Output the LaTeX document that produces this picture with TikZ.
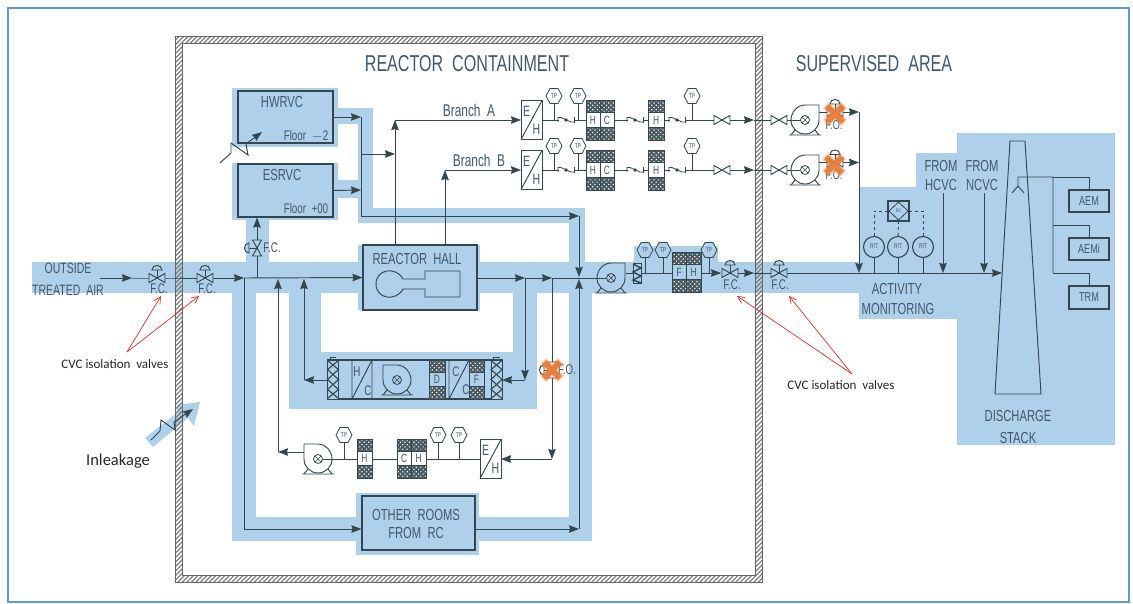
\documentclass[tikz,border=0pt]{standalone}
\usepackage{fontspec}
\setmainfont{Liberation Sans}
\newfontfamily\iso[FakeStretch=0.7]{Liberation Sans}
\newfontfamily\calfont{Carlito}
\usetikzlibrary{arrows.meta,patterns,patterns.meta,shapes.geometric}
\definecolor{duct}{HTML}{AED0EA}
\definecolor{ink}{HTML}{34474F}
\definecolor{txtc}{HTML}{43586A}
\definecolor{redc}{HTML}{D9302B}
\definecolor{frameblue}{HTML}{5B9BD5}
\definecolor{orangex}{HTML}{E67E3A}
\tikzset{
  pipe/.style={draw=ink,line width=.95pt},
  arr/.style={pipe,-{Stealth[length=10pt,width=7.5pt,inset=1pt]}},
  lab/.style={text=txtc,inner sep=0pt,font=\iso\fontsize{#1}{#1}\selectfont},
  note/.style={text=black!85,inner sep=0pt,font=\calfont\fontsize{#1}{#1}\selectfont},
  boxn/.style={draw=ink,line width=1.1pt,inner sep=0pt,minimum width=#1},
  redarr/.style={draw=redc,line width=.7pt,-{Straight Barb[length=7pt,width=7pt]}},
  ductfill/.style={fill=duct},
  meshfill/.style={draw=ink,line width=.8pt,preaction={fill=ink!90},pattern={Dots[distance=3.2pt,radius=.85pt,angle=45]},pattern color=white},
  pics/bow/.style={code={\draw[pipe,fill=#1] (-8,-4.5)--(8,4.5)--(8,-4.5)--(-8,4.5)--cycle;}},
  pics/ctl/.style={code={
    \draw[pipe] (0,0)--(0,-8);
    \draw[pipe,fill=#1] (-8,-4.5)--(8,4.5)--(8,-4.5)--(-8,4.5)--cycle;
    \draw[pipe,fill=#1] (-5,-8)--(5,-8) .. controls (5,-14) and (-5,-14) .. (-5,-8)--cycle;}},
  pics/tp/.style={code={
    \draw[pipe,line width=.8pt,fill=#1] (-8,0)--(-4,-7.5)--(4,-7.5)--(8,0)--(4,7.5)--(-4,7.5)--cycle;
    \node[lab=7] (t) at (0,0) {TP};}},
  pics/damper/.style={code={
    \fill[white] (-7.5,-1.5) rectangle (7.5,1.5);
    \draw[pipe,line width=.8pt] (-8,2)--(-8,-2.5)--(-5,-2.5)--(5,2)--(8,2);
    \draw[pipe,line width=.8pt] (8,-3)--(8,2.5);
    \fill[ink] (0,0) circle[radius=1.9];}},
  pics/pump/.style={code={
    \draw[pipe] (14,-15)--(14,-3)--(14,0) .. controls (14,7.7) and (7.7,14) .. (0,14)
       .. controls (-7.7,14) and (-14,7.7) .. (-14,0)
       .. controls (-14,-7.7) and (-7.7,-15) .. (0,-15)--(14,-15);
    \draw[pipe] (-16,15)--(16,15) (-10,10)--(-14,15) (10,10)--(14,15);
    \draw[pipe,line width=.8pt] (0,0) circle[radius=4.5];
    \draw[pipe,line width=.6pt] (-3,-3)--(3,3) (-3,3)--(3,-3);}},
  pics/ehbox/.style={code={
    \draw[pipe,fill=white] (-10.5,-19.5) rectangle (10.5,19.5);
    \draw[pipe] (-10.5,19.5)--(10.5,-19.5);
    \node[lab=15] (e) at (-5,-9) {E};
    \node[lab=15] (h) at (5,9) {H};}},
  pics/zig/.style={code={
    \draw[pipe,fill=duct] (-4,-10) rectangle (4,10);
    \draw[pipe,line width=1.5pt] (-4,-9)--(4,-5)--(-4,-1)--(4,3)--(-4,7)--(4,10);}},
  pics/zigbig/.style={code={
    \draw[pipe,fill=duct] (-5.5,-19.5) rectangle (5.5,19.5);
    \draw[pipe,line width=1.1pt] (-5.5,-19)--(5.5,-10)--(-5.5,0)--(5.5,10)--(-5.5,19);
    \draw[pipe,line width=1.1pt] (5.5,-19)--(-5.5,-10)--(5.5,0)--(-5.5,10)--(5.5,19);
    \draw[pipe,line width=.8pt] (-3,-19.5)--(-3,-22)--(3,-22);}}
}
\newcommand{\meshcell}[7]{% name,x1,x2,y1,y2,letter,bg
  \fill[#7] (#2,#4) rectangle (#3,#5);
  \path[meshfill] (#2,#4) rectangle (#3,#4+12.5);
  \path[meshfill] (#2,#5-12.5) rectangle (#3,#5);
  \draw[pipe,line width=.8pt] (#2,#4) rectangle (#3,#5);
  \node[lab=12] (#1) at ({(#2+#3)/2},{(#4+#5)/2}) {#6};
}
\newcommand{\oxcross}[3]{% name,x,y
  \coordinate (#1) at (#2,#3);
  \draw[orangex,opacity=.35,line width=9pt] (#2-9,#3-9)--(#2+9,#3+9) (#2-9,#3+9)--(#2+9,#3-9);
  \draw[orangex,opacity=.95,line width=6pt] (#2-8,#3-8)--(#2+8,#3+8) (#2-8,#3+8)--(#2+8,#3-8);
}
\begin{document}
\begin{tikzpicture}[x=1pt,y=-1pt]
\useasboundingbox (0,0) rectangle (1133,603);
% frame
\draw[frameblue,line width=2pt] (7.5,7.5) rectangle (1128.5,602);
% duct shading
\fill[ductfill] (32,262) rectangle (859,293);
\fill[ductfill] (232,88) rectangle (338,147);
\fill[ductfill] (232,163) rectangle (338,220);
\fill[ductfill] (246,220) rectangle (269,262);
\fill[ductfill] (338,108) rectangle (373,124);
\fill[ductfill] (338,180) rectangle (358,198);
\fill[ductfill] (358,108) rectangle (373,223);
\fill[ductfill] (358,208) rectangle (585,223);
\fill[ductfill] (569,208) rectangle (585,262);
\fill[ductfill] (358,245) rectangle (480,310);
\fill[ductfill] (232,293) rectangle (256,541);
\fill[ductfill] (232,517) rectangle (592,541);
\fill[ductfill] (356,493) rectangle (479,555);
\fill[ductfill] (569,293) rectangle (592,541);
\fill[ductfill] (289,293) rectangle (321,409);
\fill[ductfill] (289,352) rectangle (537,409);
\fill[ductfill] (513,293) rectangle (537,352);
\fill[ductfill] (634,246) rectangle (718,262);
\fill[ductfill] (859,187) rectangle (957,319);
\fill[ductfill] (916,153) rectangle (957,187);
\fill[ductfill] (957,133) rectangle (1115,445);
\fill[ductfill] (145,438)--(177,413)--(177,405)--(200,402)--(194,426)--(188,418)--(153,447)--cycle;
% containment wall
\begin{scope}[even odd rule]
  \clip (175,36) rectangle (762,582) (182,43) rectangle (755,575);
  \foreach \i in {0,4.5,...,1000} {\draw[black!50,line width=1.2pt] (170+\i,590)--(170+\i+600,-10);}
  \foreach \i in {4.5,9,...,600} {\draw[black!50,line width=1.2pt] (170-\i,590)--(170-\i+600,-10);}
\end{scope}
\draw[black!60,line width=.6pt] (175,36) rectangle (762,582) (182,43) rectangle (755,575);
% titles
\node[lab=23] (tCont) at (467,64) {REACTOR~~CONTAINMENT};
\node[lab=23] (tSup) at (874,64) {SUPERVISED~~AREA};
\node[lab=15] (tOut) at (68,268) {OUTSIDE};
\node[lab=15] (tTre) at (68,290) {TREATED~~AIR};
% boxes
\node[boxn=95pt,minimum height=52pt] (hwrvc) at (285.5,117) {};
\node[boxn=95pt,minimum height=53pt] (esrvc) at (285.5,190.5) {};
\node[boxn=114pt,minimum height=65pt] (hall) at (420,277.5) {};
\node[boxn=113pt,minimum height=54pt] (others) at (418.5,523) {};
\node[lab=16] (lHw) at (282,102) {HWRVC};
\node[lab=16] (lEs) at (282,175) {ESRVC};
\node[lab=14] (lF2) at (306,136) {Floor~~$-$2};
\node[lab=14] (lF0) at (306,208) {Floor~~+00};
\node[lab=16] (lHall) at (417,259) {REACTOR~~HALL};
\node[lab=16] (lOth1) at (416,515) {OTHER~~ROOMS};
\node[lab=16] (lOth2) at (416,533) {FROM~~RC};
\node[lab=17] (lBrA) at (469,110) {Branch~~A};
\node[lab=17] (lBrB) at (479,160) {Branch~~B};
% reactor hall symbol
\draw[pipe] (403,279)--(425,279)--(425,271)--(460,271)--(460,297)--(425,297)--(425,289)--(403,289)
  .. controls (396,302) and (376,299) .. (376,284) .. controls (376,269) and (396,266) .. (403,279);
% key points
\coordinate (in) at (100,278);
\coordinate (v1) at (157,278);
\coordinate (v2) at (205,278);
\coordinate (jL) at (244,278);
\coordinate (jE) at (257,278);
\coordinate (cL) at (244,529);
\coordinate (cR) at (579,529);
\coordinate (j5) at (525,278);
\coordinate (j6) at (552,278);
\coordinate (j7) at (579,278);
\coordinate (dn5) at (525,380);
\coordinate (dn6) at (552,459);
\coordinate (top7) at (579,216);
\coordinate (top1) at (361,216);
\coordinate (hw1) at (361,117);
\coordinate (es1) at (361,190);
\coordinate (br1) at (361,154);
\coordinate (brm) at (395,154);
\coordinate (brA) at (395,120);
\coordinate (brB) at (445,170);
\coordinate (pm) at (611,278);
\coordinate (ahuL) at (328,380);
\coordinate (ahuR) at (502,380);
\coordinate (up4) at (304,380);
\coordinate (up3) at (278,452);
\coordinate (vE) at (257,248);
\coordinate (vO) at (552,370);
% main line, left part
\draw[arr] (in)--(132,278);
\draw[pipe] (132,278)--(v1)--(v2);
\draw[arr] (v2)--(jL);
\draw[arr] (jL)--(hall.west);
\draw[pipe] (jL)--(cL);
\draw[arr] (cL)--(others.west |- cL);
\draw[arr] (others.east |- cR)--(cR);
\draw[arr] (cR)--(579,279);
\draw[arr] (jE)--(esrvc.south -| jE);
\draw[arr] (up3)--(278,279);
\draw[arr] (up4)--(304,279);
\draw[arr] (ahuL)--(up4);
% hvac boxes outlet lines
\draw[arr] (hwrvc.east)--(hw1);
\draw[arr] (esrvc.east)--(es1);
\draw[pipe] (hw1)--(top1);
\draw[arr] (top1)--(top7);
\draw[arr] (top7)--(579,277);
\draw[arr] (br1)--(brm);
\draw[arr] (hall.north -| brA)--(brA);
\draw[arr] (hall.north -| brB)--(brB);
% hall outlet
\draw[arr] (hall.east |- j5)--(j5);
\draw[arr] (j5)--(j6);
\draw[pipe] (j6)--(606,278);
\draw[arr] (j5)--(dn5);
\draw[arr] (dn5)--(ahuR);
\draw[arr] (j6)--(dn6);
\draw[arr] (dn6)--(501,459);
% branch rows
\foreach \n/\y/\vy in {a/120/112,b/170/162.5}{
  \coordinate (eh\n) at (531.5,\y);
  \coordinate (w\n) at (754,\y);
  \draw[pipe] (542,\y)--(722,\y);
  \draw[arr] (722,\y)--(w\n);
  \draw[pipe] (w\n)--(800,\y);
  \draw[pipe] (819,\vy)--(835,\vy);
  \draw[arr] (835,\vy)--(859,\vy);
  \foreach \x in {554,578,692}{\draw[pipe,line width=.8pt] (\x,\y-16)--(\x,\y);}
  \pic (ehp\n) at (eh\n) {ehbox};
  \pic (tp1\n) at (554,\y-24) {tp=white};
  \pic (tp2\n) at (578,\y-24) {tp=white};
  \pic (tp3\n) at (692,\y-24) {tp=white};
  \pic (dmp1\n) at (566,\y) {damper};
  \pic (dmp2\n) at (635,\y) {damper};
  \pic (dmp3\n) at (677,\y) {damper};
  \meshcell{mh\n}{586}{600}{\y-20}{\y+20}{H}{white}
  \meshcell{mc\n}{600}{614}{\y-20}{\y+20}{C}{white}
  \meshcell{mi\n}{648.5}{664}{\y-20}{\y+20}{H}{white}
  \pic (gv1\n) at (722,\y) {bow=white};
  \pic (gv2\n) at (779,\y) {bow=white};
  \pic (pmp\n) at (805,\y) {pump};
  \pic (cv\n) at (835,\vy) {ctl=white};
  \node[lab=13] (fo\n) at (834,\vy+13) {F.O.};
}
\draw[arr] (brA)--(521,120);
\draw[arr] (brB)--(521,170);
\draw[arr] (859,112)--(859,273);
% main, right part
\draw[pipe] (626,273)--(720,273);
\draw[arr] (700,273)--(721,273);
\foreach \x in {645,663,709}{\draw[pipe,line width=.8pt] (\x,258)--(\x,273);}
\pic (pmain) at (pm) {pump};
\pic (zmain) at (637,273) {zig};
\pic (tpm1) at (645,250) {tp=duct};
\pic (tpm2) at (663,250) {tp=duct};
\pic (tpm3) at (709,250) {tp=duct};
\meshcell{mmf}{672}{686.5}{252}{292}{F}{duct}
\meshcell{mmh}{686.5}{701}{252}{292}{H}{duct}
\draw[arr] (730,273)--(754,273);
\draw[pipe] (754,273)--(779,273);
\draw[arr] (779,273)--(1002,273);
\pic (v3) at (730,273) {ctl=duct};
\pic (v4) at (779,273) {ctl=duct};
\node[lab=14] (fc3) at (732,285) {F.C.};
\node[lab=14] (fc4) at (780,285) {F.C.};
% valves left
\pic (vl1) at (v1) {ctl=duct};
\pic (vl2) at (v2) {ctl=duct};
\node[lab=14] (fc1) at (159,289) {F.C.};
\node[lab=14] (fc2) at (207,289) {F.C.};
\pic[rotate=90] (vle) at (vE) {ctl=duct};
\node[lab=14] (fce) at (272,248) {F.C.};
\pic[rotate=90] (vlo) at (vO) {ctl=white};
\node[lab=14] (fco) at (567,370) {F.O.};
% air handling unit
\node[boxn=174pt,minimum height=39pt] (ahu) at (415,379.5) {};
\draw[pipe] (352,360)--(352,399) (372,360)--(372,399) (352,399)--(372,360) (338,360)--(338,399);
\draw[pipe] (449,360)--(449,399) (449,399)--(469,360);
\draw[pipe] (491,360)--(491,399);
\pic (za) at (333,379.5) {zigbig};
\pic (zb) at (496.5,379.5) {zigbig};
\pic[xscale=-1] (pahu) at (397,380) {pump};
\meshcell{md}{429}{445}{360}{399}{D}{duct}
\meshcell{mf}{469}{484}{360}{399}{F}{duct}
\node[lab=14] (ah1) at (357,372) {H};
\node[lab=14] (ah2) at (368,391) {C};
\node[lab=14] (ah3) at (456,372) {C};
\node[lab=14] (ah4) at (466,390) {C};
% lower row
\coordinate (ehc) at (490.5,459);
\draw[pipe] (480,459)--(323,459);
\foreach \x in {438,459,344}{\draw[pipe,line width=.8pt] (\x,443)--(\x,459);}
\pic (ehpc) at (ehc) {ehbox};
\pic (tpl1) at (438,435) {tp=white};
\pic (tpl2) at (459,435) {tp=white};
\pic (tpl3) at (344,435) {tp=white};
\meshcell{mlc}{397}{411.5}{439}{478}{C}{white}
\meshcell{mlh}{411.5}{426}{439}{478}{H}{white}
\meshcell{mli}{357}{372}{439}{478}{H}{white}
\pic[xscale=-1] (plow) at (318,459) {pump};
\draw[arr] (304,452)--(up3);
% wave symbols
\draw[arr] (220,163)--(231,153)--(231,143)--(248,155)--(246,144)--(262,132);
\draw[arr] (151,440)--(160,431)--(161,420)--(175,430)--(174,422)--(193,409);
% activity monitoring and stack
\foreach \n/\x in {1/874,2/898,3/923}{
  \node[draw=ink,line width=1.1pt,circle,minimum size=21pt,inner sep=0pt] (rit\n) at (\x,247) {};
  \node[lab=7] (ritl\n) at (\x,246) {RIT};
  \draw[pipe] (rit\n.south)--(\x,273);
}
\node[boxn=21pt,minimum height=20pt] (rc) at (898.5,211) {};
\draw[pipe,line width=.8pt] (898.5,202)--(908,211)--(898.5,220)--(889,211)--cycle;
\node[lab=5] (rcl) at (898.5,211) {RC};
\draw[pipe,dashed] (rit1.north)--(874,211)--(rc.west);
\draw[pipe,dashed] (rit3.north)--(923,211)--(rc.east);
\draw[pipe,dashed] (rit2.north)--(rc.south);
\coordinate (hc) at (943,193);
\coordinate (nc) at (984,193);
\draw[arr] (hc)--(943,273);
\draw[arr] (nc)--(984,273);
\node[lab=16] (f1) at (941,166) {FROM};
\node[lab=16] (f2) at (941,185) {HCVC};
\node[lab=16] (f3) at (982,166) {FROM};
\node[lab=16] (f4) at (982,185) {NCVC};
\node[lab=16] (am1) at (897,289) {ACTIVITY};
\node[lab=16] (am2) at (898,309) {MONITORING};
\draw[pipe] (1010,141)--(1025,141)--(1041,394)--(995,394)--cycle;
\node[lab=16] (ds1) at (1018,416) {DISCHARGE};
\node[lab=16] (ds2) at (1018,438) {STACK};
\node[boxn=40pt,minimum height=22pt,lab=13,draw=ink] (aem) at (1089,201) {AEM};
\node[boxn=40pt,minimum height=22pt,lab=13,draw=ink] (aemi) at (1089,249) {AEMi};
\node[boxn=40pt,minimum height=23pt,lab=13,draw=ink] (trm) at (1089,297.5) {TRM};
\coordinate (s0) at (1018,177);
\coordinate (s1) at (1053,177);
\coordinate (s2) at (1053,225);
\coordinate (s3) at (1053,273);
\draw[pipe] (1012,193)--(1018,186)--(1024,193) (1018,186)--(s0)--(s1)--(s3);
\draw[pipe] (s1)--(s1 -| aem.north)--(aem.north);
\draw[pipe] (s2)--(s2 -| aemi.north)--(aemi.north);
\draw[pipe] (s3)--(s3 -| trm.north)--(trm.north);
% orange crosses
\oxcross{xa}{835}{114}
\oxcross{xb}{834}{165}
\oxcross{xc}{552}{370}
% notes and red arrows
\node[note=13] (n1) at (115,364) {CVC isolation~~valves};
\node[note=13] (n2) at (841,385) {CVC isolation~~valves};
\node[note=16.5] (inl) at (118,461) {Inleakage};
\coordinate (r1) at (127,352);
\coordinate (r2) at (852,374);
\draw[redarr] (r1)--(161,296);
\draw[redarr] (r1)--(199,296);
\draw[redarr] (r2)--(737,296);
\draw[redarr] (r2)--(789,296);
\end{tikzpicture}
\end{document}
